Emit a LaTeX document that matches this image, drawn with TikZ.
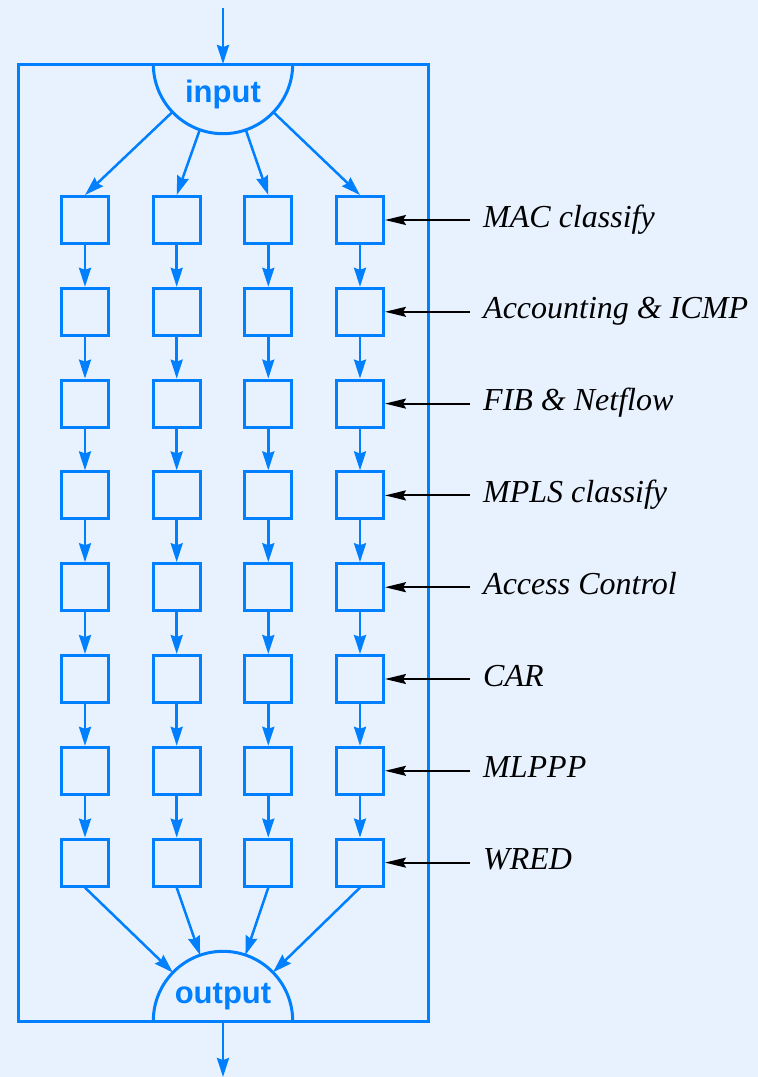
\documentclass[tikz,border=0pt]{standalone}
\usepackage{fontspec}
\setmainfont{Liberation Serif}
\newfontfamily\labsans{Liberation Sans}
\usetikzlibrary{arrows.meta}
\definecolor{bg}{RGB}{232,242,255}
\definecolor{lb}{RGB}{0,128,255}
\begin{document}
\begin{tikzpicture}[x=1pt,y=-1pt,
  blk/.style={draw=lb, line width=3pt, minimum size=47pt, inner sep=0pt},
  flow/.style={draw=lb, line width=2.5pt, -{Stealth[length=19pt,width=12pt,inset=2pt]}},
  lab/.style={draw=black, line width=2pt, -{Stealth[length=21pt,width=10pt,inset=3pt]}},
  frame/.style={draw=lb, line width=3pt},
  labtxt/.style={font=\fontsize{32}{38}\selectfont\itshape, anchor=base west, inner sep=0pt},
  iotxt/.style={font=\labsans\bfseries\fontsize{31}{36}\selectfont, text=lb, anchor=base, inner sep=0pt}]
\useasboundingbox (0,0) rectangle (758,1077);
\fill[bg] (0,0) rectangle (758,1077);
% frame
\draw[frame] (18,64) rectangle (428,1021);
\coordinate (inc) at (223,64);
\coordinate (outc) at (223,1021);
\coordinate (top) at (223,8);
\coordinate (bot) at (223,1077);
\draw[frame] (153.3,64) arc[start angle=180, end angle=0, radius=69.7];
\draw[frame] (153.3,1021) arc[start angle=180, end angle=360, radius=69.7];
\node[iotxt] (intext) at (223,102) {input};
\node[iotxt] (outtext) at (223,1003) {output};
\draw[flow] (top) -- (inc);
\draw[flow] (outc) -- (bot);
% boxes
\foreach \c [count=\i] in {85,176.7,268.3,360} {
  \foreach \r in {0,...,7} {
    \node[blk] (b\i-\r) at (\c,{220+91.8*\r}) {};
  }
  \foreach \r [evaluate=\r as \rr using int(\r+1)] in {0,...,6} {
    \draw[flow] (b\i-\r.south) -- (b\i-\rr.north);
  }
  \draw[flow, shorten <=69.7pt] (inc) -- (b\i-0.north);
  \draw[flow, shorten >=69.7pt] (b\i-7.south) -- (outc);
}
% labels
\foreach \t [count=\r from 0] in {MAC classify, {Accounting \& ICMP}, {FIB \& Netflow}, MPLS classify, Access Control, CAR, MLPPP, WRED} {
  \node[labtxt] (l\r) at (483,{227+91.8*\r}) {\t};
  \coordinate (e\r) at (470,{220+91.8*\r});
  \draw[lab] (e\r) -- (b4-\r.east);
}
\end{tikzpicture}
\end{document}
